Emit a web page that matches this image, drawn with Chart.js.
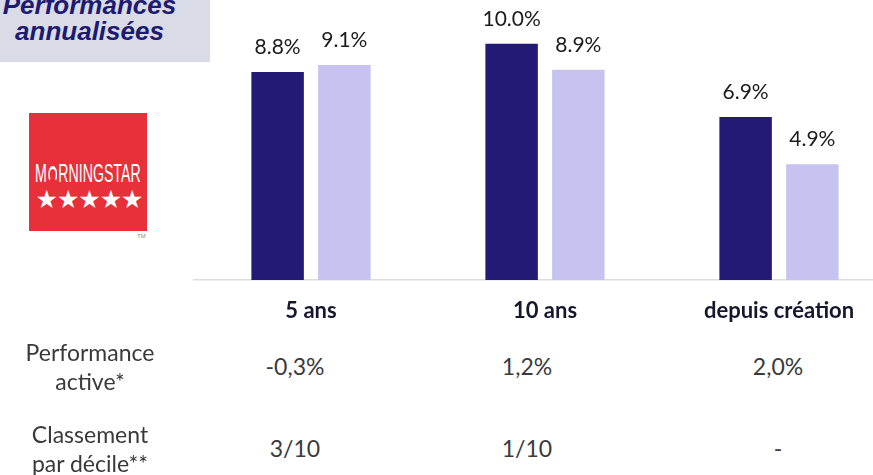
<!DOCTYPE html>
<html>
<head>
<meta charset="utf-8">
<script src="https://cdn.jsdelivr.net/npm/chart.js@4"></script>
<style>
  html, body { margin: 0; padding: 0; background: #fff; width: 873px; height: 475px; overflow: hidden; position: relative; }
  .title-box { position: absolute; left: 0; top: 0; width: 210px; height: 62px; background: #d9dce6; overflow: hidden; }
  .title-box div { position: absolute; left: 0; top: -8px; width: 179px; text-align: center;
    font: italic bold 26px/26px "Liberation Sans", Arial, sans-serif; color: #1e1a72; }
  .logo { position: absolute; left: 29px; top: 113px; width: 118px; height: 118px; background: #e8303a; }
  .logo .word { position: absolute; left: 6px; top: 50px; width: 195px; white-space: nowrap;
    font: 26px/20px "Liberation Sans", Arial, sans-serif; color: #fff; transform: scaleX(0.545); transform-origin: 0 0; }
  .logo .arc { display: inline-block; width: 17px; height: 17px; box-sizing: border-box; border: 3px solid #fff;
    border-bottom-color: transparent; border-radius: 50%; vertical-align: -1px; margin: 0 2px; }
  .logo .stars { position: absolute; left: 5px; top: 75px; width: 110px; text-align: center;
    font: 25px/24px "DejaVu Sans", sans-serif; color: #fff; letter-spacing: -1px; }
  .tm { position: absolute; left: 137px; top: 233px; font: 6px "Liberation Sans", Arial, sans-serif; color: #888; }
  #wrap { position: absolute; left: 0; top: 0; width: 900px; height: 351px; }
  .cell { position: absolute; font: 23px/29px Lato, sans-serif; color: #3a3a3a; text-align: center; white-space: nowrap; }
</style>
</head>
<body>
<div class="title-box"><div>Performances<br>annualisées</div></div>
<div class="logo">
  <div class="word">M<span class="arc"></span>RNINGSTAR</div>
  <div class="stars">★★★★★</div>
</div>
<div class="tm">TM</div>
<div id="wrap"><canvas id="chart"></canvas></div>
<div id="table"></div>
<script>
const categories  = ['5 ans', '10 ans', 'depuis création'];
const fundValues  = [8.8, 10.0, 6.9];
const indexValues = [9.1, 8.9, 4.9];

const rowLabels   = [['Performance', 'active*'], ['Classement', 'par décile**']];
const activePerf  = ['-0,3%', '1,2%', '2,0%'];
const decileRank  = ['3/10', '1/10', '-'];

// table layout
const colX = [295, 527, 778];
const rowTop = [338, 420];
const table = document.getElementById('table');
function addCell(html, cx, top, w) {
  const d = document.createElement('div');
  d.className = 'cell';
  d.innerHTML = html;
  d.style.left = (cx - w / 2) + 'px';
  d.style.width = w + 'px';
  d.style.top = top + 'px';
  table.appendChild(d);
}
rowLabels.forEach((lines, i) => addCell(lines.join('<br>'), 90, rowTop[i], 180));
activePerf.forEach((v, j) => addCell(v, colX[j], rowTop[0] + 14, 120));
decileRank.forEach((v, j) => addCell(v, colX[j], rowTop[1] + 14, 120));

const valueLabels = {
  id: 'valueLabels',
  afterDatasetsDraw(chart) {
    const ctx = chart.ctx;
    ctx.save();
    ctx.font = '21px Lato';
    ctx.fillStyle = '#1c1c1c';
    ctx.textAlign = 'center';
    ctx.textBaseline = 'alphabetic';
    chart.data.datasets.forEach((ds, i) => {
      chart.getDatasetMeta(i).data.forEach((bar, j) => {
        ctx.fillText(ds.data[j].toFixed(1) + '%', bar.x, bar.y - 18);
      });
    });
    ctx.restore();
  }
};

new Chart(document.getElementById('chart'), {
  type: 'bar',
  data: {
    labels: categories,
    datasets: [
      { label: 'Fonds',  data: fundValues,  backgroundColor: '#221a75', categoryPercentage: 0.5705, barPercentage: 0.786 },
      { label: 'Indice', data: indexValues, backgroundColor: '#c6c3f0', categoryPercentage: 0.5705, barPercentage: 0.786 },
    ]
  },
  options: {
    responsive: true, maintainAspectRatio: false,
    animation: false,
    layout: { padding: { left: 194, right: 4, top: 0, bottom: 8.6 } },
    plugins: { legend: { display: false }, tooltip: { enabled: false } },
    scales: {
      y: { display: false, min: 0, max: 11.85 },
      x: {
        grid: { display: false, drawTicks: false },
        border: { display: true, color: '#dcdcdc', width: 1.5 },
        ticks: { padding: 18, color: '#16162e', font: { family: 'Lato', size: 22, weight: 'bold' } }
      }
    }
  },
  plugins: [valueLabels]
});
</script>
</body>
</html>
